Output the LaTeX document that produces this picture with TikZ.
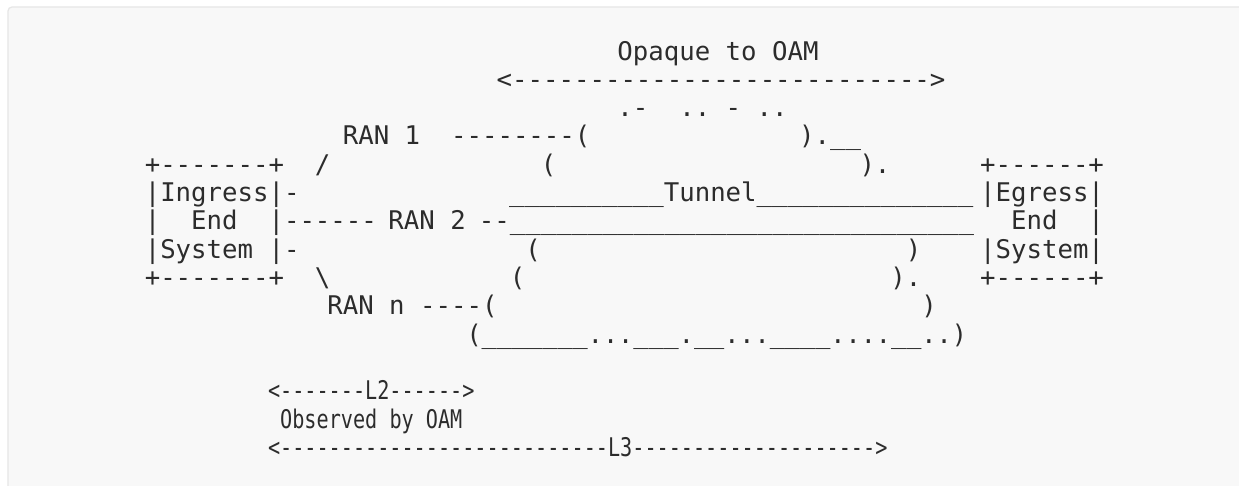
\documentclass[tikz,border=0pt]{standalone}
\usepackage{fontspec}
\setmonofont{DejaVu Sans Mono}
\ExplSyntaxOn
\cs_new:Npn \repchar #1#2 { \prg_replicate:nn {#1} {#2} }
\ExplSyntaxOff
\definecolor{panelfill}{HTML}{F8F8F8}
\definecolor{panelline}{HTML}{E6E6E6}
\definecolor{ink}{HTML}{2C2C2C}
% grid: column c starts at 144.8 + c*15.47
\newcommand{\col}[1]{{144.8+(#1)*15.47}}
% narrow set for the bottom legend lines
\newcommand{\narrow}[1]{\scalebox{0.785}[1]{#1}}
\begin{document}
\begin{tikzpicture}[x=1pt,y=-1pt,
  art/.style={anchor=base west, inner sep=0pt, outer sep=0pt, text=ink,
    font=\ttfamily\fontsize{25.7pt}{28pt}\selectfont}]
\useasboundingbox (0,0) rectangle (1239,486);
\fill[white] (0,0) rectangle (1239,486);
\filldraw[fill=panelfill, draw=panelline, line width=1.2pt, rounded corners=4pt]
  (8,7) rectangle (1270,520);

% top: opaque segment
\node[art] (opaque) at (\col{30.55}, 60.1) {Opaque\ to\ OAM};
\node[art] (opaquearrow) at (\col{22.75}, 88.4) {<\repchar{27}{-}>};
\node[art] (cloudtop) at (\col{30.55}, 116.7) {.-\ \ ..\ -\ ..};

% RAN 1
\node[art] (ranone) at (\col{12.8}, 145) {RAN\ 1\ \ --------(};
\node[art] (cloudra) at (\col{42.3}, 145) {).\_\_};

% box tops
\node[art] (ingtop) at (\col{0}, 173.3) {+-------+\ \ /};
\node[art] (cloudlb) at (\col{25.6}, 173.3) {(};
\node[art] (cloudrb) at (\col{46.2}, 173.3) {).};
\node[art] (egtop) at (\col{54}, 173.3) {+------+};

% Ingress / tunnel / Egress
\node[art] (ingname) at (\col{0}, 201.6) {|Ingress|-};
\node[art] (tunnel) at (\col{23.55}, 201.6) {\repchar{10}{\_}Tunnel\repchar{14}{\_}};
\node[art] (egname) at (\col{54}, 201.6) {|Egress|};

% End / RAN 2
\node[art] (ingend) at (\col{0}, 229.9) {|\ \ End\ \ |------};
\node[art] (rantwo) at (\col{15.75}, 229.9) {RAN\ 2};
\node[art] (tunnelbase) at (\col{21.6}, 229.9) {--\repchar{30}{\_}};
\node[art] (egend) at (\col{56}, 229.9) {End\ \ |};

% System
\node[art] (ingsys) at (\col{0}, 258.2) {|System\ |-};
\node[art] (cloudlc) at (\col{24.6}, 258.2) {(};
\node[art] (cloudrc) at (\col{49.2}, 258.2) {)};
\node[art] (egsys) at (\col{54}, 258.2) {|System|};

% box bottoms
\node[art] (ingbot) at (\col{0}, 286.5) {+-------+\ \ \textbackslash};
\node[art] (cloudld) at (\col{23.6}, 286.5) {(};
\node[art] (cloudrd) at (\col{48.2}, 286.5) {).};
\node[art] (egbot) at (\col{54}, 286.5) {+------+};

% RAN n
\node[art] (rann) at (\col{11.8}, 314.8) {RAN\ n\ ----(};
\node[art] (cloudre) at (\col{50.2}, 314.8) {)};

% cloud bottom
\node[art] (cloudbot) at (\col{20.8}, 343.1)
  {\scalebox{0.98}[1]{(\repchar{7}{\_}...\repchar{3}{\_}.\repchar{2}{\_}...\repchar{4}{\_}....\repchar{2}{\_}..)}};

% observed segments
\node[art] (ltwo) at (268, 399.7) {\narrow{<-------L2------>}};
\node[art] (observed) at (280.2, 428) {\narrow{Observed\ by\ OAM}};
\node[art] (lthree) at (268, 456.3) {\narrow{<\repchar{27}{-}L3\repchar{20}{-}>}};
\end{tikzpicture}
\end{document}
